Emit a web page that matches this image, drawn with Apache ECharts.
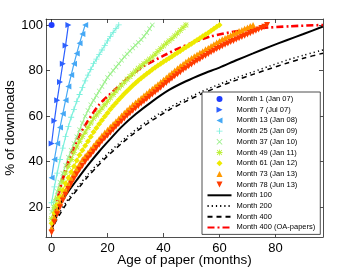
<!DOCTYPE html>
<html><head><meta charset="utf-8">
<script src="https://cdn.jsdelivr.net/npm/echarts@6/dist/echarts.min.js"></script>
<style>html,body{margin:0;padding:0;background:#fff}#c{width:357px;height:269px}</style>
</head><body><div id="c"></div>
<script>
// ---- tick labels ----
const xTicks = [0, 20, 40, 60, 80];
const yTicks = [20, 40, 60, 80, 100];

// ---- monthly curves: value at age 0,1,2,... months ----
const month1 = [100];
const month7 = [48, 58, 67, 75, 83, 91, 100];
const month13 = [33, 41, 48, 55, 61, 67, 73, 78, 83, 87.5, 92, 96, 100];
const month25 = [22, 29, 35, 41, 46, 51, 55.5, 59.5, 63, 66.5, 69.5, 72.5, 75.5, 78, 80.5, 83, 85, 87, 89, 91, 93, 95, 96.7, 98.4, 100];
const month37 = [18, 23, 27, 31, 35, 38.5, 42, 45, 48, 51, 54, 57, 60, 62.5, 65, 67, 69, 71, 73, 75, 77, 78.5, 80, 81.5, 83, 84.5, 86, 87.3, 88.6, 89.9, 91.1, 92.3, 93.5, 95, 96.6, 98.3, 100];
const month49 = [15, 20, 24, 28, 31.5, 35, 38, 41, 44, 46.5, 49, 51, 53, 55, 57, 59, 60.5, 62, 63.5, 65, 66.5, 68, 69.5, 71, 72.3, 73.6, 74.9, 76.2, 77.4, 78.6, 79.8, 81, 82, 83, 84, 85, 86, 87.2, 88.4, 89.6, 90.8, 92, 93, 94, 95.2, 96.4, 97.6, 98.8, 100];
const month61 = [13, 17.5, 21, 24.5, 27.5, 30.5, 33, 35.5, 38, 40.5, 43, 45, 47, 49, 51, 53, 54.8, 56.5, 58.2, 59.8, 61.4, 63, 64.4, 65.8, 67.2, 68.5, 69.8, 71, 72.2, 73.4, 74.5, 75.6, 76.6, 77.6, 78.6, 79.5, 80.4, 81.3, 82.2, 83, 83.8, 84.6, 85.4, 86.2, 87, 87.8, 88.6, 89.4, 90.2, 91, 91.8, 92.6, 93.4, 94.2, 95, 95.8, 96.6, 97.5, 98.3, 99.2, 100];
const month73 = [11, 15.5, 19, 22, 25, 27.5, 30, 32.5, 35, 37, 39, 41, 42.5, 44, 45.5, 47, 48.5, 50, 51.5, 52.8, 54, 55.3, 56.5, 57.8, 59, 60.3, 61.5, 62.7, 63.8, 65, 66, 67, 68, 69, 70, 71, 72, 73, 74, 75, 76, 77, 78, 79, 80, 81, 82, 82.9, 83.8, 84.7, 85.5, 86.3, 87, 87.8, 88.5, 89.3, 90, 90.8, 91.5, 92.3, 93, 93.7, 94.3, 94.9, 95.5, 96.1, 96.7, 97.3, 97.8, 98.4, 98.9, 99.5, 100];
const month78 = [9, 13.5, 17, 20, 23, 25.5, 28, 30.3, 32.5, 34.5, 36.5, 38.3, 40, 41.5, 43, 44.5, 46, 47.5, 49, 50.3, 51.5, 52.8, 54, 55.3, 56.5, 57.8, 59, 60.2, 61.3, 62.4, 63.5, 64.5, 65.5, 66.5, 67.5, 68.5, 69.5, 70.5, 71.5, 72.5, 73.5, 74.5, 75.5, 76.5, 77.5, 78.4, 79.3, 80.2, 81, 81.9, 82.7, 83.5, 84.3, 85, 85.8, 86.5, 87.3, 88, 88.7, 89.4, 90, 90.7, 91.3, 91.9, 92.5, 93, 93.6, 94.2, 94.7, 95.3, 95.8, 96.4, 96.9, 97.5, 98, 98.6, 99.2, 100];

// ---- projected curves (sampled ages) ----
const ages100 = [0, 1, 2, 3, 4, 6, 9, 13, 17, 21, 25, 30, 36, 42, 48, 54, 60, 66, 72, 78, 84, 90, 97];
const month100 = [11, 15, 18.5, 21, 23.3, 27, 32, 38.5, 44.5, 50, 55.3, 60.8, 66.5, 71.5, 75.3, 78.5, 81.3, 84.5, 87.5, 90.5, 93.3, 96, 99.3];
const ages200 = [0, 1, 2, 3, 5, 7, 10, 13, 16, 20, 25, 30, 36, 42, 48, 54, 60, 66, 72, 78, 84, 90, 97];
const month200 = [10, 13.5, 16, 18, 22, 25.5, 30, 34.5, 38.5, 43.5, 49, 54, 59.2, 63.7, 67.5, 71, 74, 76.8, 79.4, 82, 84.5, 86.7, 89];
const month400 = [9, 12.5, 15, 17, 21, 24.5, 29, 33.5, 37.5, 42.5, 48, 53, 58.2, 62.7, 66.5, 70, 73, 75.8, 78.3, 80.8, 83.2, 85.4, 87.6];
const agesOA = [0, 1, 2, 3, 4, 6, 9, 12, 17, 23, 29, 33, 40, 45, 50, 57, 65, 75, 85, 97];
const month400OA = [12, 17.5, 23, 28, 32.5, 40, 49, 56, 65, 72, 78.5, 82, 86.5, 89.5, 92, 95, 97, 98.6, 99.4, 100];

const FONT = "'Liberation Sans', Arial, sans-serif";
const RIGHT = 'path://M0,0L10,5L0,10Z';
const LEFT = 'path://M10,0L0,5L10,10Z';
const UP = 'path://M5,0L10,10L0,10Z';
const DOWN = 'path://M0,0L10,0L5,10Z';
const DIAMOND = 'path://M5,0L10,5L5,10L0,5Z';
const PLUS = 'path://M4.3,0H5.7V4.3H10V5.7H5.7V10H4.3V5.7H0V4.3H4.3Z';
const CROSS = 'path://M1,0L5,4L9,0L10,1L6,5L10,9L9,10L5,6L1,10L0,9L4,5L0,1Z';
const STAR = 'path://M4.3,0H5.7V4.3H10V5.7H5.7V10H4.3V5.7H0V4.3H4.3Z M1.5,0.5L5,4L8.5,0.5L9.5,1.5L6,5L9.5,8.5L8.5,9.5L5,6L1.5,9.5L0.5,8.5L4,5L0.5,1.5Z';

function byAge(arr) { return arr.map((v, i) => [i, v]); }
function pairs(xs, ys) { return xs.map((x, i) => [x, ys[i]]); }

function monthSeries(name, arr, color, symbol, size) {
  return {
    name, type: 'line', data: byAge(arr), symbol, symbolSize: size, showSymbol: true,
    lineStyle: { color, width: 1.2 }, itemStyle: { color }, emphasis: { disabled: true }
  };
}
function curveSeries(name, xs, ys, color, width, type) {
  return {
    name, type: 'line', data: pairs(xs, ys), symbol: 'none', showSymbol: false, smooth: 0.25,
    lineStyle: { color, width, type }, itemStyle: { color }, emphasis: { disabled: true }
  };
}

const series = [
  monthSeries('Month 1 (Jan 07)', month1, '#1f3cff', 'circle', 6),
  monthSeries('Month 7 (Jul 07)', month7, '#2d60ff', RIGHT, 6),
  monthSeries('Month 13 (Jan 08)', month13, '#45a8f5', LEFT, 6),
  monthSeries('Month 25 (Jan 09)', month25, '#7af0dc', PLUS, 6),
  monthSeries('Month 37 (Jan 10)', month37, '#9cf08c', CROSS, 5),
  monthSeries('Month 49 (Jan 11)', month49, '#bdf03a', STAR, 6),
  monthSeries('Month 61 (Jan 12)', month61, '#eeea00', DIAMOND, 6),
  monthSeries('Month 73 (Jan 13)', month73, '#ff9900', UP, 6),
  monthSeries('Month 78 (Jun 13)', month78, '#ff3c00', DOWN, 6),
  curveSeries('Month 100', ages100, month100, '#000', 2, 'solid'),
  curveSeries('Month 200', ages200, month200, '#000', 1.5, [1.2, 3]),
  curveSeries('Month 400', ages200, month400, '#000', 1.5, [5, 4]),
  curveSeries('Month 400 (OA-papers)', agesOA, month400OA, '#ff0000', 2.6, [7, 3, 2, 3])
];

const legendData = [
  { name: 'Month 1 (Jan 07)', icon: 'circle' },
  { name: 'Month 7 (Jul 07)', icon: RIGHT },
  { name: 'Month 13 (Jan 08)', icon: LEFT },
  { name: 'Month 25 (Jan 09)', icon: PLUS },
  { name: 'Month 37 (Jan 10)', icon: CROSS },
  { name: 'Month 49 (Jan 11)', icon: STAR },
  { name: 'Month 61 (Jan 12)', icon: DIAMOND },
  { name: 'Month 73 (Jan 13)', icon: UP },
  { name: 'Month 78 (Jun 13)', icon: DOWN },
  { name: 'Month 100', itemStyle: { opacity: 0 } },
  { name: 'Month 200', itemStyle: { opacity: 0 } },
  { name: 'Month 400', itemStyle: { opacity: 0 } },
  { name: 'Month 400 (OA-papers)', itemStyle: { opacity: 0 } }
];

const axisCol = '#222';
function xAx(pos, main) {
  return {
    type: 'value', min: -2, max: 97, position: pos,
    axisLine: { show: true, onZero: false, lineStyle: { color: axisCol, width: 0.8 } },
    axisTick: { show: true, inside: true, length: 4, customValues: xTicks, lineStyle: { color: axisCol, width: 0.8 } },
    axisLabel: { show: main, customValues: xTicks, fontSize: 13, color: '#000', margin: 5, fontFamily: FONT },
    splitLine: { show: false },
    name: main ? 'Age of paper (months)' : '', nameLocation: 'middle', nameGap: 16, nameMoveOverlap: false,
    nameTextStyle: { fontSize: 13.5, color: '#000', fontFamily: FONT }
  };
}
function yAx(pos, main) {
  return {
    type: 'value', min: 7, max: 102.6, position: pos,
    axisLine: { show: true, onZero: false, lineStyle: { color: axisCol, width: 0.8 } },
    axisTick: { show: true, inside: true, length: 4, customValues: yTicks, lineStyle: { color: axisCol, width: 0.8 } },
    axisLabel: { show: main, customValues: yTicks, fontSize: 13, color: '#000', margin: 3, fontFamily: FONT },
    splitLine: { show: false },
    name: main ? '% of downloads' : '', nameLocation: 'middle', nameGap: 29, nameMoveOverlap: false,
    nameTextStyle: { fontSize: 13.5, color: '#000', fontFamily: FONT }
  };
}

const chart = echarts.init(document.getElementById('c'), null, { renderer: 'canvas' });
chart.setOption({
  animation: false,
  backgroundColor: '#fff',
  grid: { left: 46, top: 19, right: 34, bottom: 32, containLabel: false, outerBoundsMode: 'none' },
  xAxis: [xAx('bottom', true), xAx('top', false)],
  yAxis: [yAx('left', true), yAx('right', false)],
  legend: {
    orient: 'vertical', left: 202, top: 92, padding: [3, 5, 3, 4.5],
    itemWidth: 24, itemHeight: 6, itemGap: 2.7, selectedMode: false,
    backgroundColor: '#fff', borderColor: axisCol, borderWidth: 0.8, borderRadius: 0,
    textStyle: { fontSize: 7.5, color: '#000', fontFamily: FONT, lineHeight: 6 },
    data: legendData
  },
  series
});
</script>
</body></html>
